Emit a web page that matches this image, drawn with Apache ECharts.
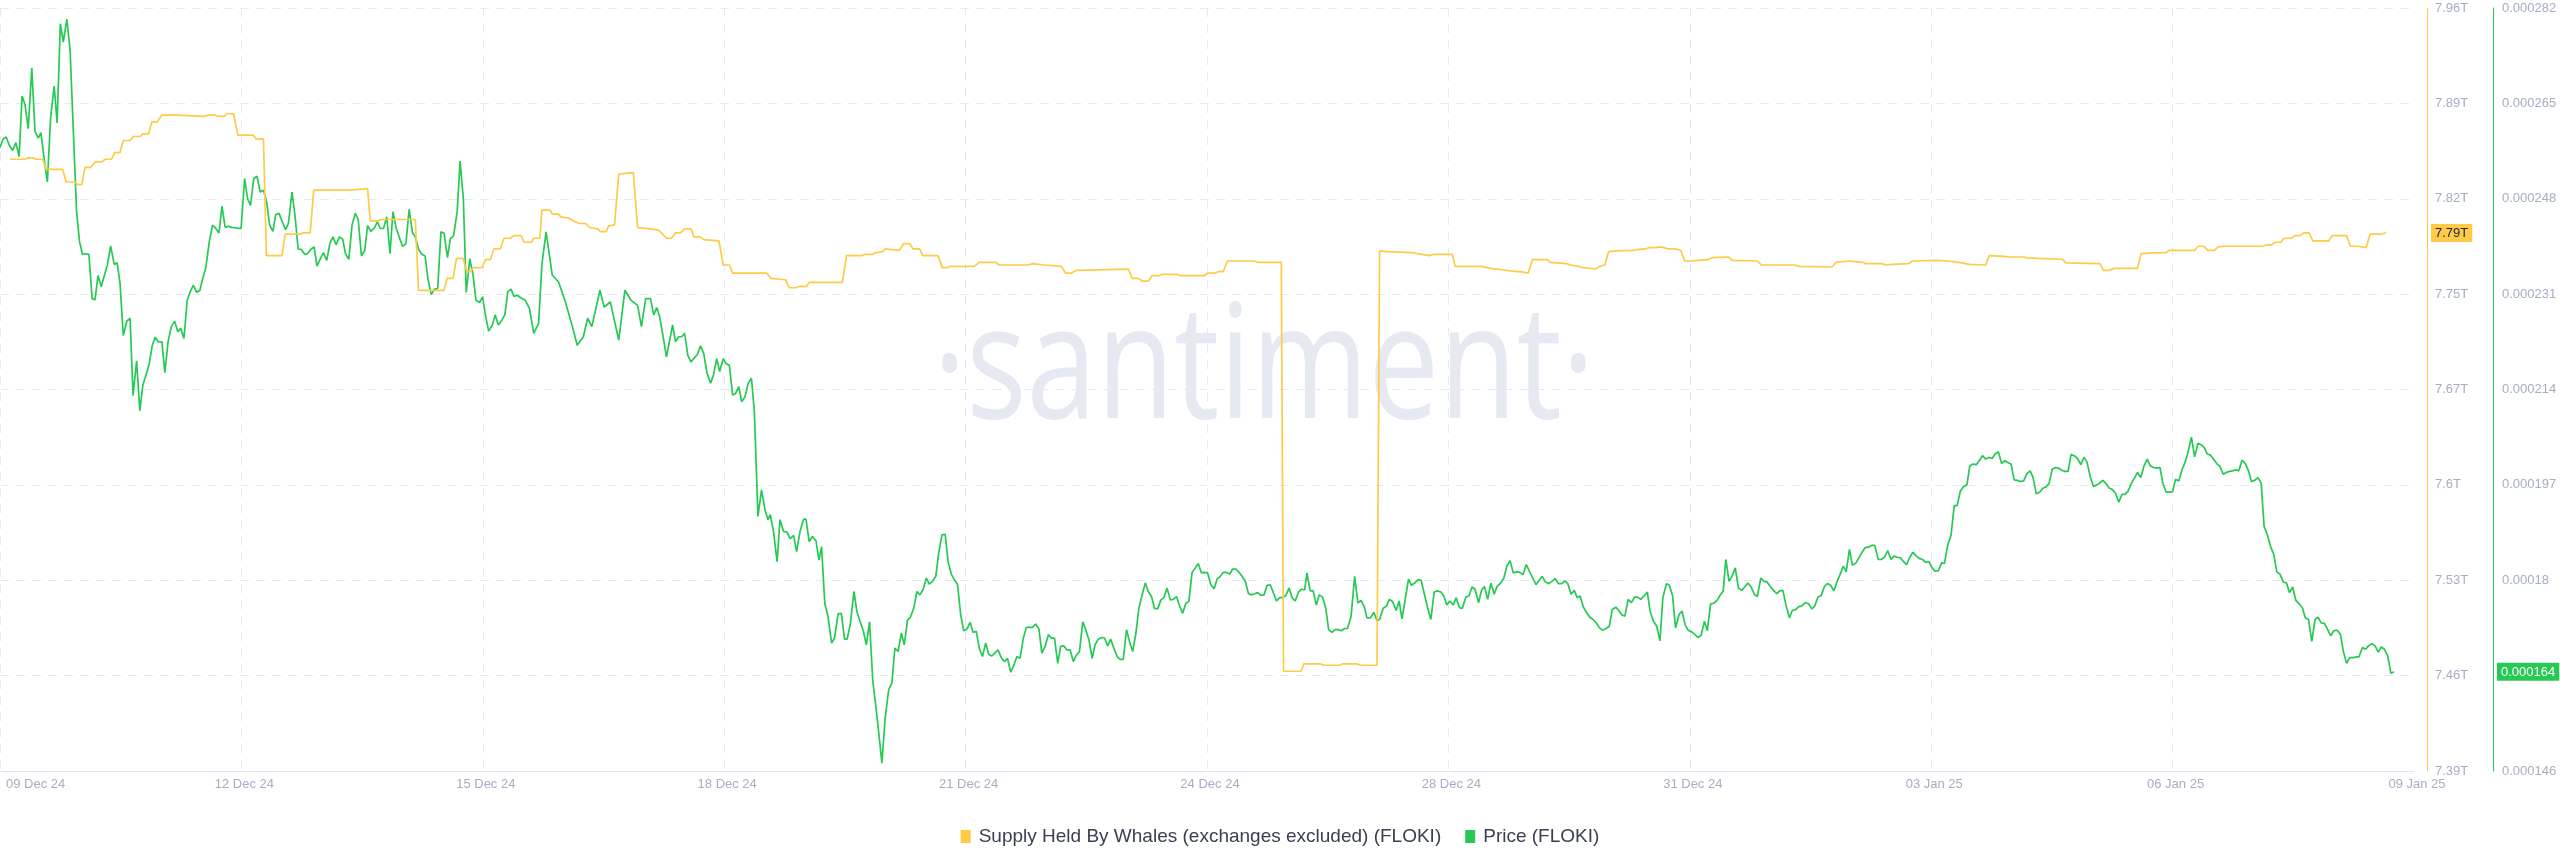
<!DOCTYPE html>
<html><head><meta charset="utf-8">
<script src="https://cdn.jsdelivr.net/npm/echarts@6/dist/echarts.min.js"></script>
<style>html,body{margin:0;padding:0;background:#fff}#c{width:2560px;height:867px}</style>
</head><body><div id="c"></div>
<script>
// x axis: hours since 09 Dec 24 00:00; tick labels spaced 74.4 h apart
const xTickLabels = ['09 Dec 24','12 Dec 24','15 Dec 24','18 Dec 24','21 Dec 24','24 Dec 24','28 Dec 24','31 Dec 24','03 Jan 25','06 Jan 25','09 Jan 25'];
const supplyTickLabels = ['7.39T','7.46T','7.53T','7.6T','7.67T','7.75T','7.82T','7.89T','7.96T'];
const priceTickLabels = ['0.000146','0.000163','0.00018','0.000197','0.000214','0.000231','0.000248','0.000265','0.000282'];
const seriesNames = ['Supply Held By Whales (exchanges excluded) (FLOKI)', 'Price (FLOKI)'];

// [hour, supply in trillions]
const supplyTrillions = [[3.1,7.847],[7.7,7.847],[8.4,7.848],[10.3,7.848],[11.1,7.847],[13.2,7.847],[14.2,7.8395],[19.3,7.8395],[20.4,7.830],[23.1,7.830],[23.9,7.828],[25.2,7.828],[26.2,7.841],[28.0,7.841],[29.3,7.845],[31.4,7.845],[32.4,7.847],[34.4,7.847],[35.3,7.852],[37.0,7.852],[38.0,7.861],[40.1,7.861],[41.1,7.864],[43.2,7.864],[44.0,7.866],[45.8,7.866],[46.8,7.875],[48.5,7.875],[49.9,7.880],[55.0,7.880],[55.5,7.879],[62.7,7.879],[64.3,7.880],[66.3,7.880],[67.0,7.879],[69.1,7.879],[69.9,7.881],[72.0,7.881],[73.3,7.865],[78.1,7.865],[79.0,7.862],[81.2,7.862],[82.1,7.775],[86.9,7.775],[87.9,7.791],[92.5,7.791],[93.4,7.792],[95.6,7.792],[96.7,7.824],[108.0,7.824],[108.5,7.825],[113.3,7.825],[114.1,7.801],[116.7,7.801],[117.4,7.802],[128.0,7.802],[129.0,7.749],[136.8,7.749],[137.8,7.758],[139.6,7.758],[140.7,7.773],[142.7,7.773],[143.9,7.763],[145.0,7.763],[145.8,7.766],[148.6,7.766],[149.6,7.772],[151.1,7.772],[152.2,7.780],[154.2,7.780],[155.3,7.788],[157.3,7.788],[158.3,7.790],[160.6,7.790],[161.5,7.785],[163.8,7.785],[164.5,7.788],[166.4,7.788],[167.0,7.809],[169.6,7.809],[170.2,7.806],[172.1,7.806],[172.8,7.804],[175.3,7.803],[176.6,7.801],[178.5,7.799],[180.5,7.799],[181.7,7.796],[184.3,7.795],[184.9,7.793],[186.9,7.793],[187.5,7.797],[189.4,7.798],[190.7,7.836],[195.2,7.837],[196.5,7.796],[200.5,7.795],[203.1,7.794],[205.4,7.788],[206.9,7.788],[208.2,7.792],[209.7,7.792],[211.0,7.795],[213.0,7.795],[213.9,7.789],[215.8,7.789],[216.9,7.787],[221.6,7.786],[222.9,7.768],[224.8,7.768],[225.8,7.762],[236.3,7.762],[237.6,7.758],[242.1,7.757],[243.3,7.751],[245.3,7.751],[246.3,7.752],[248.5,7.752],[249.4,7.755],[259.6,7.755],[260.9,7.775],[265.7,7.775],[266.7,7.776],[268.9,7.776],[269.6,7.777],[272.1,7.778],[272.8,7.780],[277.2,7.779],[278.5,7.784],[280.4,7.784],[281.3,7.780],[283.4,7.780],[284.4,7.775],[289.1,7.775],[290.4,7.766],[291.9,7.766],[292.8,7.767],[300.3,7.767],[301.8,7.770],[306.9,7.770],[307.9,7.768],[316.9,7.768],[318.2,7.769],[322.0,7.768],[327.1,7.767],[328.4,7.762],[330.3,7.762],[331.6,7.764],[347.8,7.765],[348.9,7.758],[350.8,7.758],[352.0,7.756],[354.0,7.756],[355.0,7.760],[357.2,7.760],[358.1,7.761],[362.9,7.761],[363.9,7.760],[371.2,7.760],[372.3,7.762],[374.4,7.762],[375.5,7.763],[377.0,7.763],[378.3,7.771],[386.6,7.771],[387.5,7.770],[394.9,7.770],[395.6,7.4645],[401.0,7.4645],[401.8,7.470],[406.9,7.470],[408.0,7.469],[412.8,7.469],[413.8,7.470],[418.2,7.470],[419.3,7.469],[424.4,7.469],[425.2,7.7785],[427.8,7.778],[436.1,7.777],[436.8,7.7765],[440.6,7.775],[441.9,7.776],[447.6,7.776],[448.5,7.767],[456.6,7.767],[457.2,7.766],[460.4,7.765],[461.1,7.765],[467.4,7.763],[468.7,7.763],[471.0,7.762],[472.3,7.772],[477.0,7.772],[477.7,7.770],[482.8,7.769],[484.1,7.768],[486.6,7.767],[487.9,7.766],[491.8,7.765],[493.0,7.767],[494.6,7.768],[495.8,7.778],[498.1,7.7785],[503.3,7.779],[504.5,7.7795],[507.1,7.780],[508.4,7.781],[510.3,7.781],[511.6,7.7815],[512.9,7.781],[514.1,7.780],[516.1,7.780],[518.0,7.779],[519.2,7.771],[521.2,7.771],[526.3,7.772],[527.6,7.7735],[532.7,7.774],[533.9,7.7715],[541.6,7.771],[542.9,7.768],[553.1,7.768],[554.4,7.767],[564.6,7.7665],[565.9,7.770],[569.8,7.771],[574.2,7.770],[574.9,7.769],[580.0,7.769],[581.3,7.768],[583.2,7.7685],[588.3,7.769],[589.4,7.771],[597.1,7.7715],[600.4,7.771],[603.7,7.770],[607.0,7.7685],[612.0,7.768],[613.1,7.775],[618.0,7.7745],[619.1,7.774],[623.6,7.774],[624.7,7.7733],[628.0,7.773],[635.7,7.7723],[636.6,7.7696],[647.2,7.769],[648.3,7.764],[650.0,7.764],[651.6,7.7655],[658.8,7.7655],[659.9,7.7765],[663.2,7.777],[667.6,7.7773],[668.7,7.779],[676.4,7.779],[677.5,7.782],[679.2,7.782],[680.5,7.779],[682.5,7.779],[683.6,7.7815],[685.8,7.782],[697.4,7.782],[698.5,7.783],[700.1,7.783],[701.2,7.785],[702.9,7.785],[704.0,7.788],[706.2,7.788],[707.3,7.790],[708.9,7.790],[710.0,7.792],[711.7,7.792],[712.8,7.786],[717.7,7.786],[718.8,7.790],[723.2,7.790],[724.4,7.782],[726.6,7.782],[727.1,7.781],[729.3,7.781],[730.4,7.791],[733.7,7.791],[735.4,7.792]];

// [hour, price in millionths of USD]
const priceMicroUsd = [[0,257.1],[1.0,258.7],[1.9,259.0],[2.9,257.5],[3.9,256.6],[4.9,258.0],[5.9,255.5],[6.8,266.3],[7.7,264.8],[8.7,260.5],[9.8,271.3],[10.8,260.0],[11.8,258.8],[12.6,259.8],[13.7,254.7],[14.6,251.0],[15.6,262.4],[16.7,268.1],[17.6,261.5],[18.6,279.2],[19.5,275.9],[20.6,280.0],[21.6,274.5],[23.6,245.7],[24.5,240.4],[25.4,238.1],[26.4,238.2],[27.4,238.1],[28.4,230.2],[29.3,230.0],[30.2,234.3],[31.2,232.3],[32.2,234.4],[33.1,236.2],[34.1,239.6],[35.2,236.3],[36.1,236.6],[37.0,232.9],[38.0,223.6],[39.1,226.2],[40.1,226.7],[41.0,212.9],[42.1,219.1],[43.1,210.2],[44.0,214.7],[45.0,216.6],[46.0,218.6],[46.9,221.8],[47.8,223.3],[48.8,222.5],[49.9,222.5],[50.8,217.0],[51.8,222.5],[52.8,225.2],[53.8,226.2],[54.8,224.3],[55.7,224.9],[56.7,223.1],[57.7,229.9],[58.6,231.4],[59.6,232.6],[60.6,231.3],[61.6,231.7],[62.5,233.8],[63.4,235.6],[64.5,240.3],[65.5,243.3],[66.4,242.8],[67.5,241.9],[68.4,246.7],[69.4,242.9],[70.4,243.1],[71.4,242.9],[74.3,242.7],[75.4,251.6],[76.3,248.0],[77.2,246.8],[78.2,251.6],[79.2,252.0],[80.2,249.2],[81.2,249.5],[82.2,247.4],[83.1,243.3],[84.1,242.2],[85.0,245.2],[86.0,245.4],[87.0,243.9],[88.0,242.5],[88.9,243.6],[90.0,249.2],[90.9,245.1],[91.9,239.0],[92.8,239.0],[93.9,238.1],[94.8,238.2],[95.8,239.0],[96.8,239.4],[97.7,236.0],[98.7,237.3],[99.7,238.4],[100.7,237.0],[101.7,240.1],[102.6,241.2],[103.6,239.8],[104.6,241.2],[105.6,240.8],[106.5,238.2],[107.5,237.2],[108.5,243.3],[109.5,245.4],[110.4,244.3],[111.4,237.8],[112.4,238.8],[113.3,243.2],[114.3,242.2],[115.4,242.8],[116.3,243.9],[117.2,242.7],[118.2,242.7],[119.2,244.8],[120.2,238.2],[121.1,245.7],[122.1,242.8],[123.2,240.9],[124.1,239.5],[125.1,240.0],[126.1,246.1],[127.1,242.0],[128.0,241.2],[129.0,239.0],[130.0,238.1],[131.0,237.8],[131.9,233.7],[132.9,230.9],[133.9,231.9],[134.9,232.0],[135.9,242.1],[136.9,241.8],[137.9,237.5],[138.8,240.9],[139.8,241.4],[140.9,245.7],[141.8,254.7],[142.8,248.0],[143.7,231.3],[144.8,237.3],[145.8,234.4],[146.7,229.9],[147.8,229.5],[148.7,230.5],[149.7,227.0],[150.6,224.4],[151.7,225.4],[152.6,227.3],[153.6,225.5],[154.5,226.2],[155.6,227.3],[156.5,231.4],[157.5,231.9],[158.4,230.6],[159.5,230.8],[160.6,230.3],[161.9,229.9],[163.2,228.4],[164.5,224.0],[166.0,225.8],[167.0,236.2],[168.3,242.1],[170.2,234.4],[172.1,233.2],[174.1,229.9],[176.0,226.1],[177.9,221.9],[179.8,223.4],[181.1,226.7],[182.4,225.2],[184.9,231.7],[186.2,228.7],[188.1,229.6],[190.7,222.8],[192.6,231.7],[194.5,229.9],[196.5,229.0],[197.7,225.2],[199.0,230.2],[200.5,230.2],[201.5,227.3],[202.4,228.6],[203.3,227.0],[204.3,223.7],[205.4,219.8],[206.3,222.5],[207.3,225.5],[208.2,222.5],[209.2,223.4],[210.1,223.4],[211.0,224.0],[212.0,220.1],[213.0,218.9],[213.9,219.6],[214.9,220.2],[215.9,221.8],[216.9,220.4],[217.9,216.9],[219.0,215.1],[219.9,216.6],[220.9,219.5],[221.8,217.2],[222.9,219.5],[223.8,218.6],[224.8,218.3],[225.8,213.0],[226.7,213.3],[227.7,214.5],[228.6,211.8],[229.6,212.7],[230.6,215.1],[231.6,216.0],[232.5,210.0],[233.6,191.4],[234.7,196.1],[235.8,192.5],[236.7,190.8],[237.4,191.7],[238.4,188.7],[239.5,183.3],[240.4,190.8],[241.5,188.7],[242.5,188.6],[243.6,187.4],[244.6,188.0],[245.5,185.1],[246.6,188.8],[247.7,190.9],[248.4,190.9],[249.4,186.9],[250.4,187.8],[251.5,187.0],[252.4,183.6],[253.2,186.0],[254.2,175.9],[255.2,173.5],[256.3,168.8],[257.2,169.7],[258.3,174.0],[259.3,174.1],[260.3,169.5],[261.1,169.5],[262.1,172.3],[263.2,178.0],[264.1,174.4],[265.1,172.6],[266.1,170.9],[267.0,168.5],[268.0,172.6],[269.0,162.0],[270.0,157.2],[271.0,151.9],[271.8,147.4],[272.8,155.4],[273.9,160.5],[274.9,161.7],[275.8,167.9],[276.8,167.3],[277.8,170.6],[278.7,168.5],[279.7,172.9],[280.6,173.4],[281.6,175.0],[282.6,178.0],[283.5,177.4],[284.5,178.3],[285.5,180.4],[286.4,179.3],[287.4,179.8],[288.4,180.7],[289.3,184.8],[290.3,188.1],[291.3,188.2],[292.2,183.3],[293.2,181.1],[294.1,180.1],[295.1,179.3],[296.1,173.8],[297.0,171.0],[298.0,171.3],[299.0,172.5],[299.9,170.7],[300.9,170.9],[301.8,167.9],[302.8,166.4],[303.8,168.8],[304.7,166.8],[305.7,166.5],[306.7,167.1],[307.6,167.6],[308.6,166.2],[309.6,165.5],[310.5,166.1],[311.5,163.6],[312.5,164.9],[313.4,166.4],[314.4,166.1],[315.4,169.7],[316.3,171.6],[317.3,171.6],[318.2,171.6],[319.2,172.2],[320.2,171.3],[321.1,167.0],[322.1,168.2],[323.1,170.3],[324.0,169.7],[325.0,169.7],[326.0,165.2],[326.9,168.2],[327.9,168.3],[328.8,167.6],[329.8,167.6],[330.8,165.5],[331.7,166.6],[332.7,167.3],[333.7,172.6],[334.6,171.2],[335.6,169.4],[336.6,166.1],[337.5,168.5],[338.5,169.5],[339.5,169.8],[340.4,169.7],[341.4,168.3],[342.3,169.5],[343.3,167.9],[344.3,166.4],[345.2,165.9],[346.2,165.9],[347.2,171.2],[348.1,169.1],[349.1,167.3],[350.1,170.6],[351.0,175.0],[352.0,177.4],[353.0,179.5],[353.9,178.0],[354.9,177.1],[355.8,175.0],[356.8,174.9],[357.8,176.5],[358.7,176.9],[359.7,178.6],[360.7,176.5],[361.6,176.6],[362.6,177.1],[363.5,175.5],[364.5,174.1],[365.5,175.9],[366.4,176.2],[367.4,181.4],[368.4,182.2],[369.3,183.0],[370.3,181.3],[371.3,181.4],[372.2,181.3],[373.2,179.2],[374.2,178.5],[375.1,180.2],[376.1,180.7],[377.0,181.4],[378.0,181.4],[379.0,181.1],[379.9,182.0],[380.9,182.0],[381.9,181.4],[382.8,180.7],[383.8,179.8],[384.8,177.6],[385.7,177.4],[386.7,177.6],[387.6,177.8],[388.6,177.3],[389.6,177.4],[390.5,179.1],[391.5,179.2],[392.5,177.7],[393.4,176.3],[394.4,176.9],[395.4,176.9],[396.3,177.3],[397.3,178.6],[398.3,176.8],[399.2,176.3],[400.2,177.9],[401.1,178.4],[402.1,178.3],[402.8,181.3],[403.8,178.1],[404.7,178.1],[405.7,175.6],[406.6,177.4],[407.6,177.0],[408.6,175.0],[409.5,171.2],[410.5,170.7],[411.5,171.2],[412.4,171.2],[413.4,171.0],[414.4,171.4],[415.3,171.4],[416.4,173.5],[417.5,180.7],[418.5,176.0],[419.5,176.4],[420.5,175.2],[421.3,173.3],[422.4,173.3],[423.4,174.3],[424.4,172.8],[425.2,173.0],[426.3,175.0],[427.3,175.4],[428.2,176.6],[429.2,176.2],[430.3,174.6],[431.2,176.3],[432.1,173.1],[433.0,176.3],[434.1,180.2],[435.0,179.1],[436.0,179.5],[437.1,180.1],[438.0,180.0],[439.0,177.5],[440.0,175.1],[441.0,173.0],[442.0,177.9],[443.0,178.1],[444.1,177.9],[445.0,177.2],[445.9,175.6],[446.8,176.3],[447.9,175.6],[448.8,176.9],[449.8,175.1],[450.7,175.0],[451.8,177.0],[452.7,177.2],[453.7,178.8],[454.6,178.4],[455.7,176.0],[456.6,178.2],[457.5,178.9],[458.5,176.6],[459.5,179.5],[460.5,177.5],[461.4,178.9],[462.5,179.5],[463.5,180.4],[464.4,182.5],[465.4,183.5],[466.4,181.3],[467.4,181.5],[468.4,181.4],[469.4,181.0],[470.4,182.8],[471.4,181.6],[472.4,180.4],[473.4,179.2],[474.4,180.0],[475.3,180.7],[476.3,179.7],[477.4,179.4],[478.3,179.8],[479.3,180.3],[480.3,179.4],[481.3,179.4],[482.3,179.9],[483.2,179.4],[484.2,177.5],[485.2,178.2],[486.1,176.9],[487.0,177.2],[488.0,175.2],[489.0,174.2],[490.0,173.4],[491.0,173.0],[492.0,172.4],[493.0,171.5],[493.9,171.1],[495.0,171.4],[496.0,171.8],[496.9,174.8],[498.0,175.2],[498.9,174.6],[499.9,173.8],[500.8,173.6],[501.8,176.6],[502.8,176.0],[503.8,177.0],[504.7,177.0],[505.7,176.6],[506.7,177.2],[507.7,177.9],[508.6,174.4],[509.6,172.7],[510.6,171.8],[511.6,169.2],[512.5,176.9],[513.6,179.4],[514.5,179.1],[515.5,177.2],[516.4,171.5],[517.5,173.9],[518.4,174.5],[519.4,172.0],[520.3,171.1],[521.4,170.8],[522.3,170.4],[523.3,169.8],[524.3,170.2],[525.3,172.7],[526.2,171.0],[527.2,175.8],[528.2,175.9],[529.2,176.4],[530.1,177.3],[531.1,178.1],[531.9,183.7],[532.9,179.8],[533.8,180.7],[534.8,182.2],[535.8,178.6],[536.8,178.2],[537.7,178.8],[538.7,179.5],[539.7,178.8],[540.7,177.5],[541.6,177.1],[542.7,180.4],[543.7,179.8],[544.6,179.7],[545.6,178.9],[546.6,178.2],[547.6,177.6],[548.5,178.1],[549.5,178.2],[550.5,175.4],[551.5,173.3],[552.4,174.6],[553.5,174.8],[554.4,175.3],[555.2,175.4],[556.4,176.0],[557.4,175.8],[558.4,174.9],[559.3,175.4],[560.3,177.0],[561.3,177.3],[562.3,178.9],[563.2,179.4],[564.2,179.1],[565.2,178.1],[566.2,179.8],[567.1,181.0],[568.1,182.5],[569.0,181.5],[570.0,185.5],[570.9,182.7],[571.9,183.0],[572.9,184.0],[573.9,185.0],[574.8,185.8],[575.8,185.9],[576.8,186.2],[577.8,186.2],[578.9,183.7],[579.8,183.7],[580.8,184.1],[581.8,185.3],[582.8,183.7],[583.7,184.3],[584.7,184.1],[585.7,184.0],[586.7,183.3],[587.6,182.8],[588.6,184.1],[589.6,185.0],[590.6,184.3],[591.5,183.9],[592.5,183.7],[593.5,183.2],[594.5,183.3],[595.4,182.3],[596.4,181.6],[597.4,181.7],[598.4,183.1],[599.3,183.0],[600.3,186.3],[601.3,188.0],[602.3,193.3],[603.2,193.3],[604.2,195.9],[605.2,196.7],[606.2,197.0],[607.1,200.4],[608.1,200.7],[609.1,200.6],[610.1,201.4],[611.0,202.2],[612.0,201.6],[613.0,201.9],[614.0,201.7],[614.9,202.5],[615.9,202.9],[616.9,200.8],[617.9,201.3],[618.8,201.0],[619.8,200.7],[620.8,197.9],[621.8,197.8],[622.7,197.6],[623.7,197.7],[624.7,199.0],[625.7,199.5],[626.6,198.3],[627.6,195.4],[628.6,195.7],[629.6,196.4],[630.5,196.6],[631.5,197.2],[632.5,199.8],[633.5,200.1],[634.4,200.0],[635.4,199.6],[636.4,199.4],[637.4,199.4],[638.3,202.4],[639.3,202.2],[640.3,201.7],[641.3,200.6],[642.3,201.9],[643.2,201.1],[644.2,198.5],[645.2,196.7],[646.2,197.0],[647.1,197.3],[648.1,197.8],[649.1,197.2],[650.1,196.4],[651.0,196.2],[652.0,195.5],[653.0,193.9],[654.0,195.3],[654.9,195.3],[655.9,195.9],[656.9,197.3],[657.9,198.3],[658.8,199.2],[659.8,198.3],[660.8,200.4],[661.8,201.6],[662.7,200.4],[663.7,200.1],[664.7,200.0],[665.7,200.1],[666.6,197.3],[667.6,195.7],[668.6,195.7],[669.6,195.8],[670.5,198.0],[671.5,197.7],[672.5,199.7],[673.5,201.1],[674.4,202.9],[675.4,205.5],[676.4,202.0],[677.4,204.4],[678.3,204.2],[679.3,203.7],[680.3,202.5],[681.3,202.3],[682.2,201.6],[683.2,200.8],[684.2,200.3],[685.2,198.9],[686.1,199.2],[687.1,199.4],[688.1,199.5],[689.1,199.7],[690.0,199.5],[691.0,201.4],[692.0,200.8],[693.0,199.5],[693.9,197.6],[694.9,197.8],[695.9,198.3],[696.9,197.3],[697.8,189.6],[698.8,188.1],[699.8,186.0],[700.8,184.6],[701.7,181.5],[702.7,181.1],[703.7,179.7],[704.7,179.5],[705.6,177.8],[706.6,178.8],[707.6,176.4],[708.6,175.8],[709.6,175.1],[710.5,173.3],[711.5,173.0],[712.5,169.1],[713.5,173.0],[714.4,173.4],[715.4,172.4],[716.4,172.3],[717.4,171.2],[718.3,170.1],[719.3,171.0],[720.3,171.1],[721.3,170.4],[722.2,167.4],[723.2,165.2],[724.2,166.2],[725.2,166.2],[726.1,166.3],[727.1,166.4],[728.1,168.0],[729.1,167.7],[730.0,168.3],[731.0,168.7],[732.0,168.3],[733.0,167.2],[733.9,168.1],[734.9,167.7],[735.9,166.5],[736.9,163.4],[737.8,163.7]];

const YELLOW = '#ffcb47', GREEN = '#26c953';
const labelFont = 'Liberation Sans, Arial, sans-serif';
const lastSupply = supplyTrillions[supplyTrillions.length - 1][1];
const lastPrice = priceMicroUsd[priceMicroUsd.length - 1][1];

const chart = echarts.init(document.getElementById('c'), null, {renderer: 'canvas'});
chart.setOption({
  animation: false,
  backgroundColor: '#ffffff',
  grid: {left: 0, right: 146, top: 8, bottom: 96, containLabel: false},
  graphic: [{
    type: 'text', x: 1264, y: 372, scaleX: 0.79, z: -10, silent: true,
    style: {text: '\u00b7santiment\u00b7', font: '400 160px "Open Sans"', fill: '#e6e9f2',
            align: 'center', verticalAlign: 'middle', textAlign: 'center', textVerticalAlign: 'middle'}
  }],
  legend: {
    top: 822, left: 'center', icon: 'rect', itemWidth: 10, itemHeight: 13, itemGap: 24,
    data: seriesNames,
    textStyle: {fontSize: 19, color: '#3a4050', fontFamily: labelFont, padding: [0, 0, 0, 3]}
  },
  axisPointer: {triggerOn: 'none'},
  xAxis: {
    type: 'value', min: 0, max: 744, interval: 74.4,
    axisLine: {show: true, onZero: false, lineStyle: {color: '#e3e5ee', width: 1}},
    axisTick: {show: false},
    splitLine: {show: true, showMaxLine: false, lineStyle: {color: '#e7e9f2', type: [9, 7], width: 1}},
    axisLabel: {
      color: '#a6adc4', fontSize: 13, fontFamily: labelFont, margin: 7,
      alignMinLabel: 'left', padding: [0, 0, 0, 6],
      formatter: v => xTickLabels[Math.round(v / 74.4)] || ''
    }
  },
  yAxis: [{
    type: 'value', position: 'right', offset: 13,
    min: 7.39, max: 7.96, interval: 0.07125,
    axisLine: {show: true, onZero: false, lineStyle: {color: YELLOW, width: 1}},
    axisTick: {show: false},
    splitLine: {show: true, lineStyle: {color: '#e7e9f2', type: [9, 7], width: 1}},
    axisLabel: {color: '#a6adc4', fontSize: 13, fontFamily: labelFont, margin: 8,
      formatter: v => supplyTickLabels[Math.round((v - 7.39) / 0.07125)] || ''},
    axisPointer: {
      show: true, status: 'show', value: lastSupply, type: 'line', triggerTooltip: false,
      lineStyle: {opacity: 0, width: 0},
      label: {show: true, backgroundColor: YELLOW, color: '#1d2236', fontSize: 13, fontFamily: labelFont,
        padding: [3, 4, 2, 4], margin: 4, borderRadius: 0,
        formatter: p => Number(p.value).toFixed(2) + 'T'}
    }
  }, {
    type: 'value', position: 'right', offset: 79,
    min: 146, max: 282, interval: 17,
    axisLine: {show: true, onZero: false, lineStyle: {color: GREEN, width: 1}},
    axisTick: {show: false},
    splitLine: {show: false},
    axisLabel: {color: '#a6adc4', fontSize: 13, fontFamily: labelFont, margin: 9,
      formatter: v => priceTickLabels[Math.round((v - 146) / 17)] || ''},
    axisPointer: {
      show: true, status: 'show', value: lastPrice, type: 'line', triggerTooltip: false,
      lineStyle: {opacity: 0, width: 0},
      label: {show: true, backgroundColor: GREEN, color: '#ffffff', fontSize: 13, fontFamily: labelFont,
        padding: [3, 4, 2, 4], margin: 4, borderRadius: 0,
        formatter: p => (Number(p.value) / 1e6).toFixed(6)}
    }
  }],
  series: [{
    name: seriesNames[0], type: 'line', yAxisIndex: 0, z: 4,
    data: supplyTrillions, showSymbol: false, symbol: 'none',
    lineStyle: {color: YELLOW, width: 1.7}, itemStyle: {color: YELLOW}
  }, {
    name: seriesNames[1], type: 'line', yAxisIndex: 1, z: 3,
    data: priceMicroUsd, showSymbol: false, symbol: 'none',
    lineStyle: {color: GREEN, width: 1.7}, itemStyle: {color: GREEN}
  }]
});
</script>
</body></html>
